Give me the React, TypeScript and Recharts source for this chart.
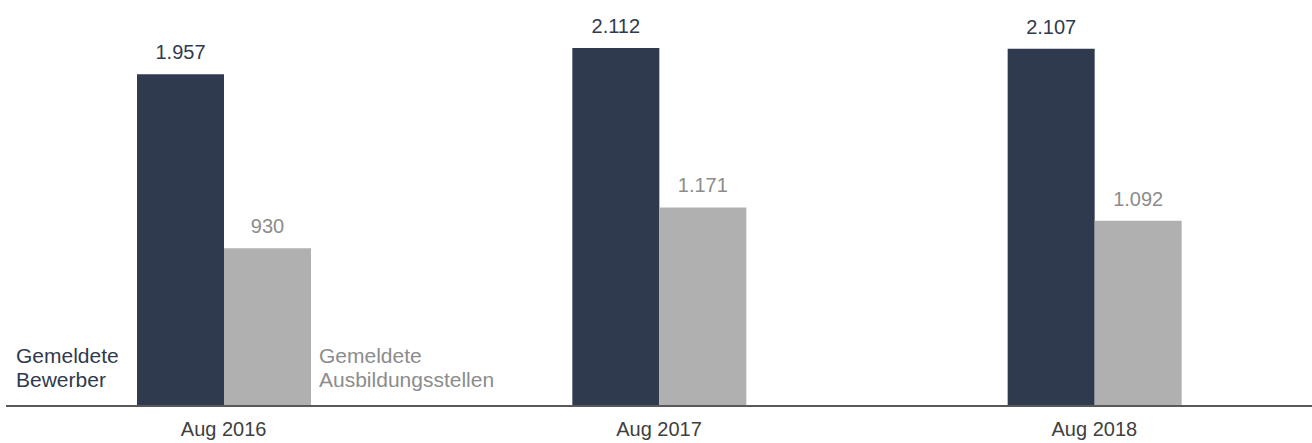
import { BarChart, Bar, XAxis, YAxis, LabelList } from "recharts"

const periods = ["Aug 2016", "Aug 2017", "Aug 2018"]
const bewerber = [1957, 2112, 2107]
const stellen = [930, 1171, 1092]
const seriesNames = [
    ["Gemeldete", "Bewerber"],
    ["Gemeldete", "Ausbildungsstellen"],
]

const data = periods.map((p, i) => ({ period: p, bewerber: bewerber[i], stellen: stellen[i] }))

const fmt = (v: number) => v.toLocaleString("de-DE")

const FONT = "'Liberation Sans', Arial, sans-serif"
const DARK = "#303a4e"
const GREY = "#b0b0b0"

function seriesName(lines: string[], color: string, side: "left" | "right") {
    return (props: any) => {
        if (props.index !== 0) return null
        const x = Number(props.x)
        const w = Number(props.width)
        const bottom = Number(props.y) + Number(props.height)
        const tx = side === "left" ? x - 121 : x + w + 8
        return (
            <text x={tx} y={bottom - 43} fill={color} fontSize={21} fontFamily={FONT} textAnchor="start">
                {lines.map((l, i) => (
                    <tspan key={i} x={tx} dy={i === 0 ? 0 : 24}>
                        {l}
                    </tspan>
                ))}
            </text>
        )
    }
}

export default function App() {
    return (
        <div style={{ position: "absolute", left: 0, top: 0, width: 1312, height: 443, background: "#fff" }}>
            <BarChart
                width={1312}
                height={443}
                data={data}
                margin={{ top: 16, right: 0, left: 6, bottom: 7 }}
                barGap={0}
            >
                <XAxis
                    dataKey="period"
                    height={30}
                    tickLine={false}
                    axisLine={{ stroke: "#595959", strokeWidth: 2 }}
                    tick={{ fill: "#404040", fontSize: 20, fontFamily: FONT }}
                    tickMargin={10}
                />
                <YAxis hide domain={[0, 2300]} />
                <Bar dataKey="bewerber" fill={DARK} barSize={87} isAnimationActive={false}>
                    <LabelList
                        dataKey="bewerber"
                        position="top"
                        offset={15}
                        formatter={(v: any) => fmt(Number(v))}
                        fill={DARK}
                        fontSize={20}
                        fontFamily={FONT}
                    />
                    <LabelList dataKey="bewerber" content={seriesName(seriesNames[0], DARK, "left")} />
                </Bar>
                <Bar dataKey="stellen" fill={GREY} barSize={87} isAnimationActive={false}>
                    <LabelList
                        dataKey="stellen"
                        position="top"
                        offset={15}
                        formatter={(v: any) => fmt(Number(v))}
                        fill="#8c8c8c"
                        fontSize={20}
                        fontFamily={FONT}
                    />
                    <LabelList dataKey="stellen" content={seriesName(seriesNames[1], "#8c8c8c", "right")} />
                </Bar>
            </BarChart>
        </div>
    )
}
